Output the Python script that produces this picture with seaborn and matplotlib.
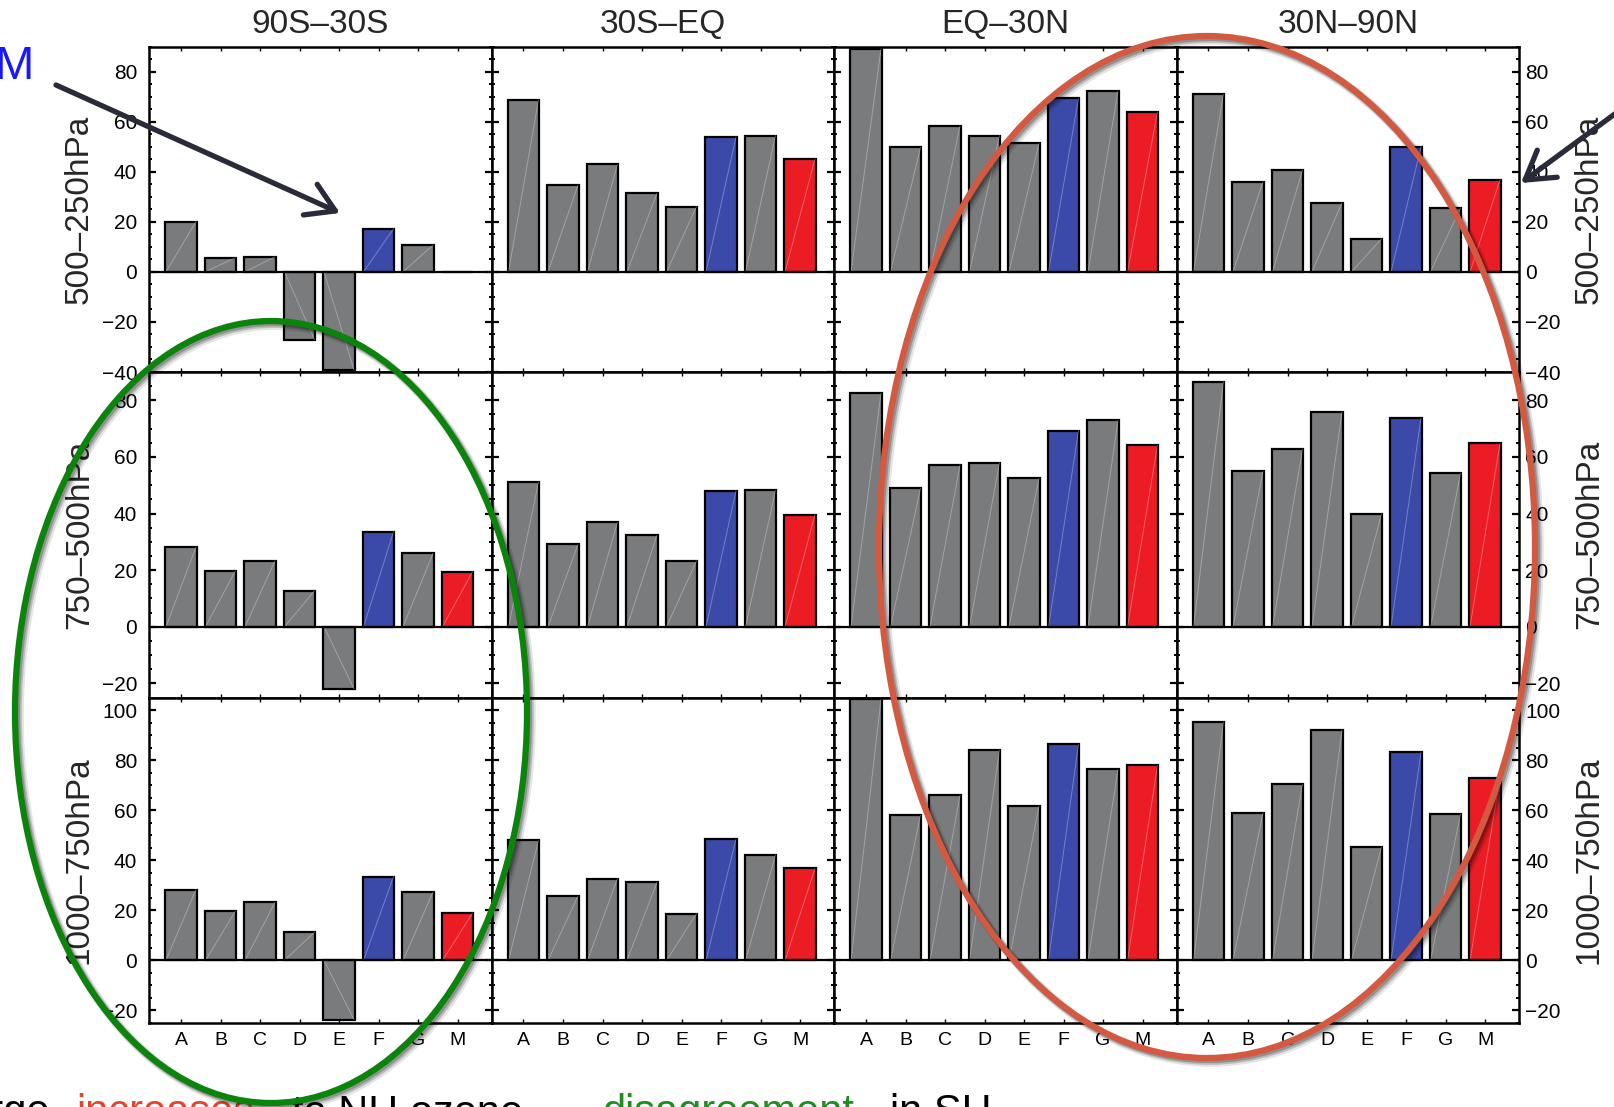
import numpy as np
import pandas as pd
import matplotlib
matplotlib.use("Agg")
import matplotlib.pyplot as plt
import seaborn as sns
from matplotlib.patches import Ellipse, FancyArrowPatch
from matplotlib.ticker import MultipleLocator

# ---------------- data ----------------
models = ["A", "B", "C", "D", "E", "F", "G", "M"]
regions = ["90S\u201330S", "30S\u2013EQ", "EQ\u201330N", "30N\u201390N"]
layers = ["500\u2013250hPa", "750\u2013500hPa", "1000\u2013750hPa"]

# 500-250 hPa
upper_90S_30S = [20.0, 5.7, 6.0, -27.1, -39.3, 17.2, 10.7, 0.0]
upper_30S_EQ = [68.7, 34.7, 42.9, 31.3, 26.0, 53.9, 54.4, 45.1]
upper_EQ_30N = [89.1, 49.7, 58.4, 54.4, 51.3, 69.3, 72.4, 63.9]
upper_30N_90N = [70.9, 36.0, 40.7, 27.6, 13.2, 49.9, 25.5, 36.8]
# 750-500 hPa
middle_90S_30S = [28.2, 19.8, 23.3, 12.7, -22.0, 33.5, 25.9, 19.5]
middle_30S_EQ = [51.1, 29.1, 36.9, 32.4, 23.3, 48.0, 48.2, 39.6]
middle_EQ_30N = [82.5, 48.9, 57.2, 57.9, 52.4, 69.3, 72.9, 64.2]
middle_30N_90N = [86.5, 54.9, 62.7, 75.9, 39.9, 73.8, 54.2, 64.8]
# 1000-750 hPa
lower_90S_30S = [28.3, 19.7, 23.2, 11.3, -23.7, 33.5, 27.3, 18.9]
lower_30S_EQ = [47.9, 25.7, 32.7, 31.2, 18.7, 48.4, 42.1, 36.8]
lower_EQ_30N = [104.3, 58.1, 66.0, 84.0, 61.7, 86.4, 76.3, 78.0]
lower_30N_90N = [95.2, 58.9, 70.5, 92.1, 45.3, 83.1, 58.4, 72.9]

values = [
    [upper_90S_30S, upper_30S_EQ, upper_EQ_30N, upper_30N_90N],
    [middle_90S_30S, middle_30S_EQ, middle_EQ_30N, middle_30N_90N],
    [lower_90S_30S, lower_30S_EQ, lower_EQ_30N, lower_30N_90N],
]
ylims = [(-40, 90), (-25, 90), (-25, 105)]

GRAY, BLUE, RED = "#7a7b7d", "#3b4aa8", "#ec1c24"
palette = {m: GRAY for m in models}
palette["F"] = BLUE
palette["M"] = RED

# ---------------- figure ----------------
sns.set_style("white")
plt.rcParams["font.family"] = ["Liberation Sans", "DejaVu Sans"]
plt.rcParams["axes.unicode_minus"] = True

W, H = 1614, 1107
fig, axes = plt.subplots(3, 4, figsize=(W / 100, H / 100), dpi=100)
fig.subplots_adjust(left=149 / W, right=1519 / W, top=1 - 46.5 / H,
                    bottom=1 - 1023 / H, wspace=0, hspace=0)

for r in range(3):
    for c in range(4):
        ax = axes[r, c]
        df = pd.DataFrame({"model": models, "value": values[r][c]})
        sns.barplot(data=df, x="model", y="value", hue="model", order=models,
                    hue_order=models, palette=palette, dodge=False, legend=False,
                    width=0.8, saturation=1, edgecolor="black", linewidth=1.6,
                    ax=ax, zorder=2)
        # faint diagonal streak inside each bar
        for p in list(ax.patches):
            x0, y0, w, h = p.get_x(), p.get_y(), p.get_width(), p.get_height()
            if abs(h) > 0.5:
                ax.plot([x0 + 0.02, x0 + w - 0.02], [y0, y0 + h], color="white",
                        alpha=0.3, lw=0.7, zorder=3)
        ax.axhline(0, color="black", lw=1.6, zorder=4)
        ax.set_xlim(-0.81, 7.86)
        ax.set_ylim(*ylims[r])
        ax.set_xlabel("")
        ax.set_ylabel("")
        ax.yaxis.set_major_locator(MultipleLocator(20))
        ax.yaxis.set_minor_locator(MultipleLocator(5))
        for s in ax.spines.values():
            s.set_linewidth(1.8)
            s.set_color("black")
        ax.tick_params(axis="both", which="both", direction="in", top=True,
                       bottom=True, left=True, right=True, colors="black")
        ax.tick_params(axis="y", which="major", length=5, width=1.6, labelsize=15)
        ax.tick_params(axis="y", which="minor", length=2.5, width=1.4)
        ax.tick_params(axis="x", which="major", length=3, width=1.0, labelsize=14,
                       pad=6.5)
        ax.tick_params(labelleft=(c == 0), labelright=(c == 3),
                       labelbottom=(r == 2), labeltop=False)
        if c == 0:
            ax.tick_params(axis="y", pad=8.5)
        elif c == 3:
            ax.tick_params(axis="y", pad=4.5)
        if r == 0:
            ax.set_title(regions[c], fontsize=24, pad=10)

# row labels on both sides
for r in range(3):
    pos = axes[r, 0].get_position()
    yc = (pos.y0 + pos.y1) / 2
    fig.text(79.5 / W, yc, layers[r], rotation=90, ha="center", va="center",
             fontsize=24)
    fig.text(1589.5 / W, yc, layers[r], rotation=90, ha="center", va="center",
             fontsize=24)

# ---------------- annotations ----------------
def fx(px):
    return px / W


def fy(py):
    return 1 - py / H


def ring(cx, cy, w, h, color):
    # soft drop shadow drawn as offset translucent outlines, then the ring itself
    for off, a, lw in [(4.0, 0.10, 7.0), (3.0, 0.18, 5.5), (2.0, 0.22, 4.5)]:
        sh = Ellipse((fx(cx + off), fy(cy + off)), w / W, h / H,
                     transform=fig.transFigure, fill=False, edgecolor="black",
                     alpha=a, lw=lw, zorder=19)
        fig.add_artist(sh)
    e = Ellipse((fx(cx), fy(cy)), w / W, h / H, transform=fig.transFigure,
                fill=False, edgecolor=color, lw=4.5, zorder=20)
    fig.add_artist(e)


ring(271, 712, 512, 782, "#0b840b")
ring(1207, 547, 656, 1022, "#d35a40")

arrow_kw = dict(transform=fig.transFigure, arrowstyle="->,head_length=0.9,head_width=0.55",
                mutation_scale=22, color="#2a2b3a", lw=3.8, zorder=21,
                shrinkA=0, shrinkB=0)
fig.add_artist(FancyArrowPatch((fx(56), fy(85)), (fx(340), fy(213)), **arrow_kw))
fig.add_artist(FancyArrowPatch((fx(1665), fy(77)), (fx(1521), fy(183)), **arrow_kw))

fig.text(fx(33), fy(79), "M", color="#1818ff", fontsize=34, ha="right",
         va="baseline", zorder=22)

# caption, cut off at the bottom edge as in the reference
base = fy(1124)
fig.text(fx(50), base, "Large", fontsize=30, color="black", ha="right", va="baseline")
fig.text(fx(76), base, "increases", fontsize=30, color="#e2452f", ha="left", va="baseline")
fig.text(fx(292), base, "to NH ozone,", fontsize=30, color="black", ha="left", va="baseline")
fig.text(fx(602), base, "disagreement", fontsize=30, color="#1e8c1e", ha="left", va="baseline")
fig.text(fx(890), base, "in SH", fontsize=30, color="black", ha="left", va="baseline")

fig.savefig("out.png", dpi=100)
